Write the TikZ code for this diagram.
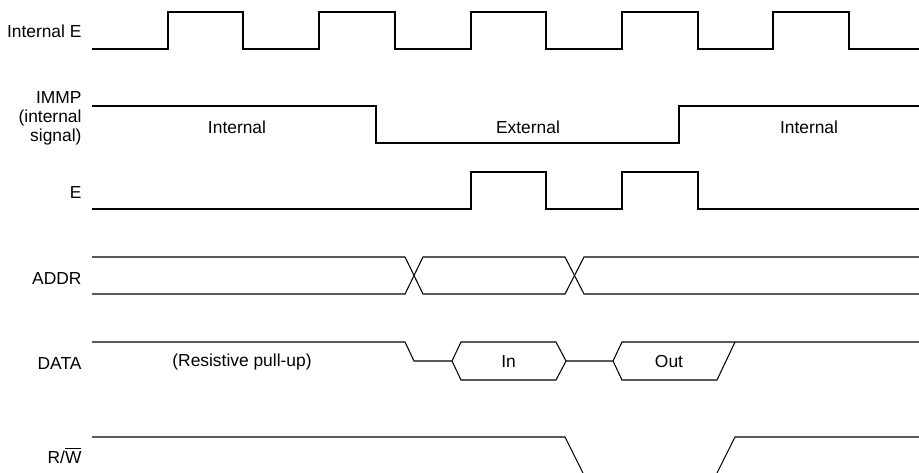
\documentclass[tikz,border=0pt]{standalone}
\usepackage{fontspec}
\setmainfont{Liberation Sans}
\usetikzlibrary{arrows}

\begin{document}
\begin{tikzpicture}[x=0.02cm,y=-0.02cm,line width=0.6pt,
    every node/.style={font=\fontsize{9.9}{10.8}\selectfont,inner sep=0pt},
    signame/.style={anchor=base east,align=right},
    phase/.style={anchor=base}]
    \useasboundingbox (0,0) rectangle (919,473);

    % signal names
    \node[signame] (intE) at (82,38) {Internal E};
    \node[anchor=east,align=right] (immp) at (82,118) {IMMP\\(internal\\signal)};
    \node[signame] (ext) at (82,198) {E};
    \node[signame] (addr) at (82,284) {ADDR};
    \node[signame] (data) at (82,369) {DATA};
    \node[signame] (rw) at (82,463) {R/$\overline{\mbox{W}}$};

    % waveforms
    \draw (92,49) -| (168,12) -| (243,49) -| (319,12) -| (395,49) -| (471,12) -| (546,49)
        -| (622,12) -| (698,49) -| (773,12) -| (849,49) -- (919,49);
    \draw (92,106) -| (376,143) -| (679,106) -- (919,106);
    \draw (92,209) -| (471,172) -| (546,209) -| (622,172) -| (698,209) -- (919,209);

    \draw (92,257) -- (405,257) -- (423,294) -- (565,294) -- (584,257) -- (919,257);
    \draw (92,294) -- (405,294) -- (423,257) -- (565,257) -- (584,294) -- (919,294);

    \draw (92,342) -- (405,342) -- (414,361) -- (452,361) -- (461,342) -- (556,342)
        -- (566,361) -- (556,380) -- (461,380) -- (452,361);
    \draw (566,361) -- (613,361) -- (622,342) -- (735,342) -- (919,342);
    \draw (613,361) -- (622,380) -- (717,380) -- (735,342);

    \draw (92,437) -- (565,437) -- (583,473);
    \draw (717,473) -- (735,437) -- (919,437);

    \node[phase] (int1) at (237,133) {Internal};
    \node[phase] (ext1) at (528,133) {External};
    \node[phase] (int2) at (809,133) {Internal};
    \node[phase] (pull) at (242,366) {(Resistive pull-up)};
    \node[phase] (din) at (508.6,367) {In};
    \node[phase] (dout) at (669,367) {Out};
\end{tikzpicture}
\end{document}
